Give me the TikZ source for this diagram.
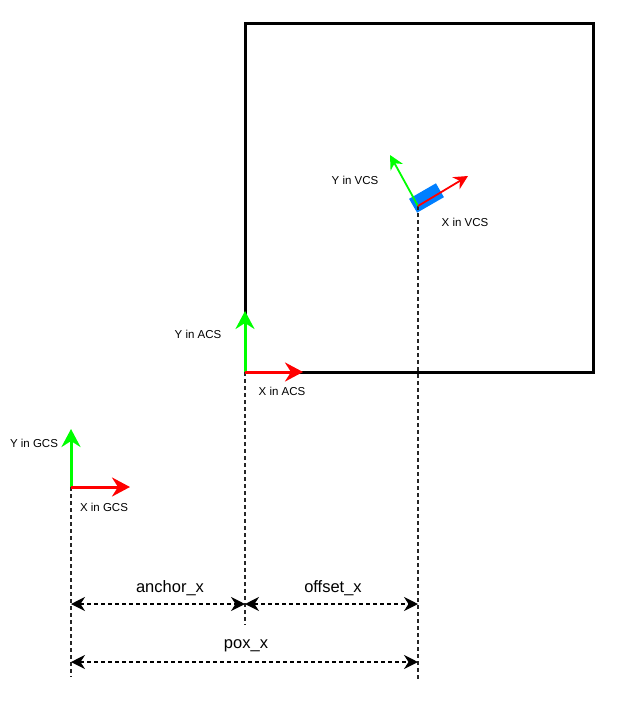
\documentclass[tikz,border=0pt]{standalone}
\usepackage{fontspec}
\setmainfont{Liberation Sans}
\usetikzlibrary{arrows.meta,positioning}
\definecolor{axisx}{RGB}{255,0,0}
\definecolor{axisy}{RGB}{0,255,0}
\definecolor{vehblue}{RGB}{0,127,255}
\begin{document}
\begin{tikzpicture}[
                x=1pt,y=-1pt,
                axis/.style={line width=3pt,-{Stealth[length=18pt,width=19pt,inset=6pt]}},
                vaxis/.style={line width=1.8pt,-{Stealth[length=14pt,width=14pt,inset=4.5pt]}},
                guide/.style={line width=1.4pt,dash pattern=on 3.5pt off 3.5pt,black!85},
                dim/.style={line width=1.4pt,dash pattern=on 3.5pt off 3.5pt,{Stealth[length=14pt,width=14pt,inset=4.5pt]}-{Stealth[length=14pt,width=14pt,inset=4.5pt]}},
                small/.style={font=\fontsize{11.5}{13}\selectfont,inner sep=0pt},
                big/.style={font=\fontsize{16.5}{18}\selectfont,inner sep=0pt},
                vehicle/.style={fill=vehblue,minimum width=31pt,minimum height=16pt,inner sep=0pt}
            ]
                \useasboundingbox (0,0) rectangle (638,701);
                \draw[line width=3pt] (245,24) rectangle (593.5,372);
                \coordinate (gcs) at (71,487);
                \coordinate (acs) at (245,372);
                \coordinate (vcs) at (418,206);
                \coordinate (gcsx) at (130,487);
                \coordinate (gcsy) at (71,429);
                \coordinate (acsx) at (303,372);
                \coordinate (acsy) at (245,311);
                \coordinate (vcsx) at (468,176);
                \coordinate (vcsy) at (390,155);
                \coordinate (gcsend) at (71,677);
                \coordinate (acsend) at (245,625);
                \coordinate (vcsend) at (418,679);
                \node (veh) [vehicle,rotate=30] at (426.5,198) {};
                \draw[guide] (gcs) -- (gcsend);
                \draw[guide] (acs) -- (acsend);
                \draw[guide] (vcs) -- (vcsend);
                \draw[axis,axisy] (gcs) -- (gcsy);
                \draw[axis,axisx] (gcs) -- (gcsx);
                \draw[axis,axisy] (acs) -- (acsy);
                \draw[axis,axisx] (acs) -- (acsx);
                \draw[vaxis,axisy] (vcs) -- (vcsy);
                \draw[vaxis,axisx] (vcs) -- (vcsx);
                \node (ygcs) [small] at (34,443) {Y in GCS};
                \node (xgcs) [small] at (104,507) {X in GCS};
                \node (yacs) [small] at (198,334) {Y in ACS};
                \node (xacs) [small] at (282,391) {X in ACS};
                \node (yvcs) [small] at (355,180) {Y in VCS};
                \node (xvcs) [small] at (465,222) {X in VCS};
                \coordinate (da) at (71,604);
                \coordinate (db) at (245,604);
                \coordinate (dc) at (418,604);
                \coordinate (pa) at (71,662);
                \coordinate (pc) at (418,662);
                \draw[dim] (da) -- (db);
                \draw[dim] (db) -- (dc);
                \draw[dim] (pa) -- (pc);
                \node (anchor) [big] at (170,588) {anchor\_x};
                \node (offset) [big] at (333,588) {offset\_x};
                \node (pox) [big] at (246,646) {pox\_x};
            \end{tikzpicture}
\end{document}
